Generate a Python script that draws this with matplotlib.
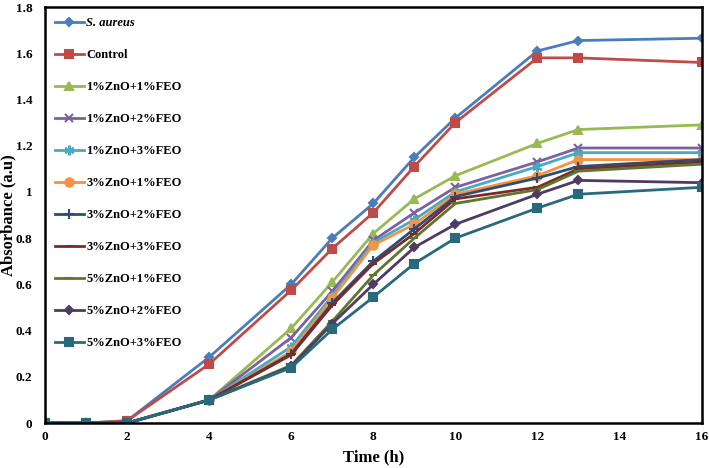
import matplotlib.pyplot as plt
from matplotlib.ticker import FuncFormatter

plt.rcParams['font.family'] = ['Liberation Serif', 'DejaVu Serif']
plt.rcParams['font.weight'] = 'bold'

time = [0, 1, 2, 4, 6, 7, 8, 9, 10, 12, 13, 16]

s_aureus = [0, 0, 0.01, 0.285, 0.60, 0.80, 0.95, 1.15, 1.32, 1.61, 1.655, 1.665]
control = [0, 0, 0.01, 0.255, 0.575, 0.755, 0.91, 1.11, 1.30, 1.58, 1.58, 1.56]
zn1_fe1 = [0, 0, 0, 0.10, 0.41, 0.61, 0.82, 0.97, 1.07, 1.21, 1.27, 1.29]
zn1_fe2 = [0, 0, 0, 0.10, 0.37, 0.57, 0.79, 0.91, 1.02, 1.13, 1.19, 1.19]
zn1_fe3 = [0, 0, 0, 0.10, 0.33, 0.55, 0.78, 0.88, 1.00, 1.11, 1.17, 1.17]
zn3_fe1 = [0, 0, 0, 0.10, 0.31, 0.54, 0.77, 0.86, 0.99, 1.07, 1.14, 1.14]
zn3_fe2 = [0, 0, 0, 0.10, 0.30, 0.52, 0.70, 0.84, 0.98, 1.06, 1.11, 1.14]
zn3_fe3 = [0, 0, 0, 0.10, 0.295, 0.51, 0.69, 0.82, 0.97, 1.02, 1.10, 1.13]
zn5_fe1 = [0, 0, 0, 0.10, 0.25, 0.44, 0.64, 0.80, 0.95, 1.01, 1.09, 1.12]
zn5_fe2 = [0, 0, 0, 0.10, 0.245, 0.43, 0.60, 0.76, 0.86, 0.99, 1.05, 1.04]
zn5_fe3 = [0, 0, 0, 0.10, 0.24, 0.405, 0.545, 0.69, 0.80, 0.93, 0.99, 1.02]

series = [
    ('S. aureus', s_aureus, '#4a7ebb', 'D', 4),
    ('Control', control, '#be4b48', 's', 6),
    ('1%ZnO+1%FEO', zn1_fe1, '#98b954', '^', 6),
    ('1%ZnO+2%FEO', zn1_fe2, '#7d60a0', 'x', 6),
    ('1%ZnO+3%FEO', zn1_fe3, '#46aac5', (6, 2, 0), 7),
    ('3%ZnO+1%FEO', zn3_fe1, '#f69240', 'o', 6),
    ('3%ZnO+2%FEO', zn3_fe2, '#2c4d75', '+', 7),
    ('3%ZnO+3%FEO', zn3_fe3, '#772c2a', '_', 6),
    ('5%ZnO+1%FEO', zn5_fe1, '#5f7530', '_', 6),
    ('5%ZnO+2%FEO', zn5_fe2, '#4d3b62', 'D', 4),
    ('5%ZnO+3%FEO', zn5_fe3, '#276a7c', 's', 6),
]

fig = plt.figure(figsize=(7.09, 4.68), dpi=100)
ax = fig.add_axes([0.0635, 0.096, 0.926, 0.889])

for name, vals, col, mk, ms in series:
    ax.plot(time, vals, color=col, marker=mk, markersize=ms, linewidth=2,
            markeredgewidth=1.5, label=name)

ax.set_xlim(0, 16)
ax.set_ylim(0, 1.8)
ax.set_xticks(range(0, 17, 2))
ax.set_yticks([0, 0.2, 0.4, 0.6, 0.8, 1.0, 1.2, 1.4, 1.6, 1.8])
ax.yaxis.set_major_formatter(FuncFormatter(lambda v, p: '%g' % round(v, 1)))
ax.tick_params(length=0, labelsize=9.5)
ax.tick_params(axis='x', pad=6)
ax.tick_params(axis='y', pad=9)
for sp in ax.spines.values():
    sp.set_linewidth(1.8)

ax.set_xlabel('Time (h)', fontsize=12, fontweight='bold')
ax.set_ylabel('Absorbance (a.u)', fontsize=12, fontweight='bold')
ax.yaxis.set_label_coords(-0.043, 0.5)

leg = ax.legend(loc='upper left', frameon=False, fontsize=9, labelspacing=1.6,
                handlelength=2.3, handletextpad=0.2, borderaxespad=0.4)
leg.get_texts()[0].set_fontstyle('italic')

fig.savefig('out.png', dpi=100)
